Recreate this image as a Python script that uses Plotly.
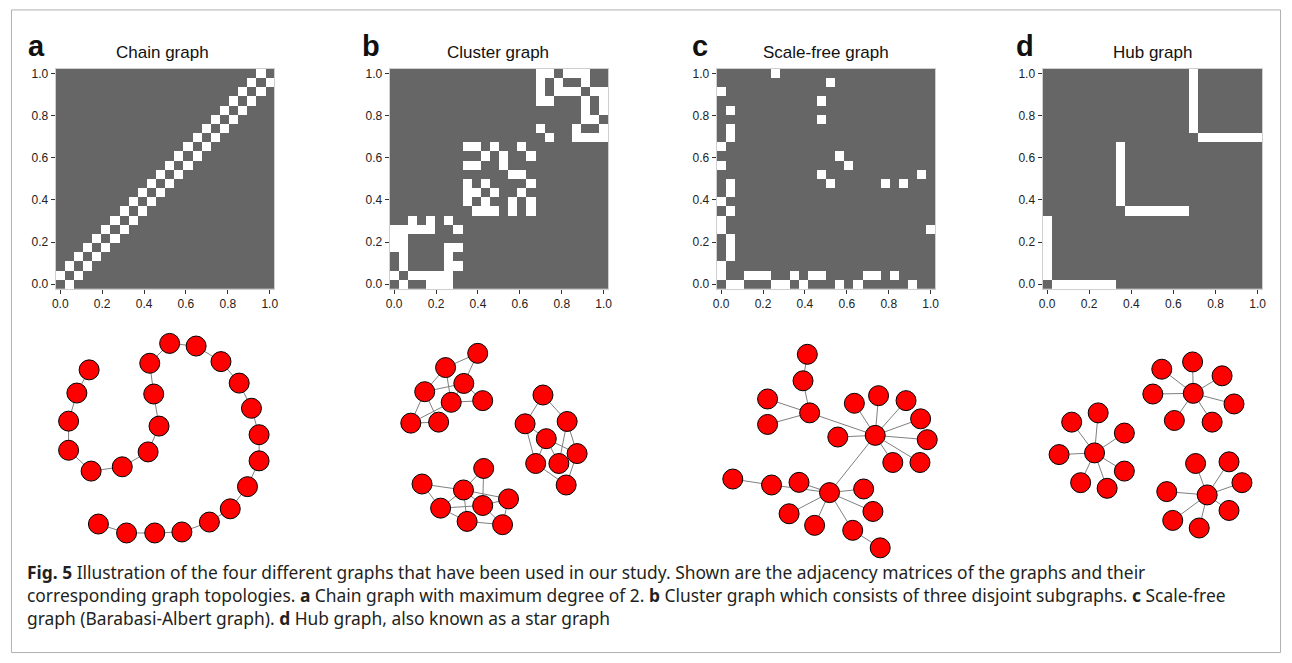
import plotly.graph_objects as go

W, H = 1292, 663
N = 24

# ---------------- data ----------------
tick_vals = [0.0, 0.2, 0.4, 0.6, 0.8, 1.0]
tick_text = ["0.0", "0.2", "0.4", "0.6", "0.8", "1.0"]
panel_letters = ["a", "b", "c", "d"]
panel_titles = ["Chain graph", "Cluster graph", "Scale-free graph", "Hub graph"]

chain_edges = [(0, 1), (1, 2), (2, 3), (3, 4), (4, 5), (5, 6), (6, 7), (7, 8), (8, 9), (9, 10),
               (10, 11), (11, 12), (12, 13), (13, 14), (14, 15), (15, 16), (16, 17), (17, 18),
               (18, 19), (19, 20), (20, 21), (21, 22), (22, 23)]

cluster_edges = [(0, 1), (0, 4), (0, 5), (0, 6), (1, 2), (1, 3), (1, 4), (1, 5), (1, 6), (2, 6),
                 (2, 7), (3, 6), (4, 6), (4, 7), (6, 7),
                 (8, 9), (8, 10), (8, 11), (8, 13), (8, 15), (9, 10), (9, 13), (9, 15), (10, 11),
                 (10, 14), (11, 15), (12, 13), (12, 14), (14, 15),
                 (16, 17), (16, 20), (16, 21), (16, 22), (16, 23), (17, 20), (17, 23), (18, 21),
                 (18, 22), (19, 21), (19, 23), (20, 21), (20, 23), (21, 22), (21, 23)]

scalefree_edges = [(0, 1), (0, 2), (0, 6), (0, 7), (0, 9), (0, 13), (0, 15), (0, 21),
                   (1, 3), (1, 4), (1, 5), (1, 8), (1, 10), (1, 11), (1, 16), (1, 17), (1, 19),
                   (6, 23), (12, 22), (11, 20), (11, 18), (13, 14), (11, 12)]

hub_edges = [(0, 1), (0, 2), (0, 3), (0, 4), (0, 5), (0, 6), (0, 7),
             (8, 9), (8, 10), (8, 11), (8, 12), (8, 13), (8, 14), (8, 15),
             (16, 17), (16, 18), (16, 19), (16, 20), (16, 21), (16, 22), (16, 23)]

# network layouts (layout units)
chain_pos = [(137, 137), (100, 207), (75, 292), (75, 380), (143, 443), (237, 430), (315, 385),
             (348, 307), (332, 210), (320, 117), (380, 57), (460, 65), (535, 112), (590, 177),
             (627, 253), (650, 333), (650, 412), (615, 490), (563, 557), (500, 597), (417, 627),
             (335, 630), (250, 630), (165, 603)]

cluster_pos = [(290, 87), (193, 130), (248, 178), (130, 203), (210, 235), (305, 230), (88, 298),
               (172, 295),
               (487, 213), (433, 300), (560, 293), (497, 345), (590, 390), (465, 420), (535, 420),
               (557, 485),
               (308, 435), (122, 482), (247, 500), (383, 527), (178, 555), (305, 547), (258, 595),
               (365, 605)]
cluster_net_edges = [(0, 1), (0, 2), (1, 3), (1, 4), (3, 2), (2, 5), (4, 5), (3, 6), (3, 7),
                     (6, 7), (6, 4), (2, 4),
                     (8, 9), (8, 10), (9, 11), (9, 13), (10, 12), (10, 14), (11, 14), (11, 12),
                     (13, 15), (12, 15), (11, 13),
                     (16, 18), (16, 21), (17, 18), (17, 20), (18, 21), (18, 22), (18, 19), (18, 20),
                     (20, 21), (20, 22), (21, 19), (19, 23), (22, 23), (21, 23)]

scalefree_pos = [(362, 478), (500, 305), (270, 447), (437, 208), (510, 185), (593, 200), (432, 592),
                 (465, 467), (637, 255), (493, 535), (657, 318), (302, 237), (282, 140), (187, 455),
                 (70, 437), (240, 542), (387, 310), (553, 387), (175, 195), (635, 387), (175, 272),
                 (317, 577), (295, 60), (515, 645)]

hub_pos = [(172, 343), (103, 250), (183, 222), (262, 283), (65, 348), (262, 398), (130, 433),
           (210, 450),
           (470, 163), (375, 90), (468, 68), (557, 110), (348, 165), (593, 195), (413, 245),
           (527, 250),
           (512, 470), (477, 375), (578, 370), (617, 433), (390, 460), (578, 517), (408, 547),
           (488, 570)]

caption_lines = [
    "<b>Fig. 5</b> Illustration of the four different graphs that have been used in our study. "
    "Shown are the adjacency matrices of the graphs and their",
    "corresponding graph topologies. <b>a</b> Chain graph with maximum degree of 2. <b>b</b> Cluster "
    "graph which consists of three disjoint subgraphs. <b>c</b> Scale-free",
    "graph (Barabasi-Albert graph). <b>d</b> Hub graph, also known as a star graph",
]

# ---------------- layout geometry (pixels) ----------------
mat_boxes = [(52, 67.5, 272, 289), (388, 67.5, 608, 289), (717, 67.5, 937, 289), (1045, 67.5, 1266, 289)]
net_boxes = [(40, 325, 280, 555, 720, 690), (380, 325, 600, 555, 660, 690),
             (710, 335, 950, 565, 720, 690), (1040, 340, 1270, 550, 690, 630)]
letter_x = [22, 358, 690, 1016]
title_x = [159, 497, 827, 1156]


def px(x):
    return x / W


def py(y):
    return 1 - y / H


def adjacency(edges):
    z = [[0] * N for _ in range(N)]
    for i, j in edges:
        z[i][j] = 1
        z[j][i] = 1
    return z


coords = [i / (N - 1) for i in range(N)]
half = 0.5 / (N - 1)

fig = go.Figure()
mats = [chain_edges, cluster_edges, scalefree_edges, hub_edges]
nets = [(chain_pos, chain_edges), (cluster_pos, cluster_net_edges),
        (scalefree_pos, scalefree_edges), (hub_pos, hub_edges)]

layout = dict(width=W, height=H, margin=dict(l=0, r=0, t=0, b=0),
              paper_bgcolor="white", plot_bgcolor="white", showlegend=False)

annotations = []
for k in range(4):
    ax = k + 1
    sfx = "" if ax == 1 else str(ax)
    fig.add_trace(go.Heatmap(z=adjacency(mats[k]), x=coords, y=coords,
                             colorscale=[[0, "#666666"], [1, "#ffffff"]], zmin=0, zmax=1,
                             showscale=False, hoverinfo="skip",
                             xaxis="x" + sfx, yaxis="y" + sfx))
    x0, y0, x1, y1 = mat_boxes[k]
    common = dict(range=[-half, 1 + half], tickvals=tick_vals, ticktext=tick_text,
                  ticks="outside", ticklen=4, tickwidth=1, tickcolor="#333333",
                  tickfont=dict(family="Liberation Sans", size=12, color="#222222"),
                  showgrid=False, zeroline=False, showline=True, linecolor="#cfcfcf",
                  linewidth=1, mirror=True, fixedrange=True)
    layout["xaxis" + sfx] = dict(domain=[px(x0), px(x1)], anchor="y" + sfx, **common)
    layout["yaxis" + sfx] = dict(domain=[py(y1), py(y0)], anchor="x" + sfx, **common)

    annotations.append(dict(text="<b>" + panel_letters[k] + "</b>", x=px(letter_x[k]), y=py(44),
                            xref="paper", yref="paper", xanchor="left", yanchor="middle",
                            showarrow=False, font=dict(family="Liberation Sans", size=29, color="#111111")))
    annotations.append(dict(text=panel_titles[k], x=px(title_x[k]), y=py(51),
                            xref="paper", yref="paper", xanchor="center", yanchor="middle",
                            showarrow=False, font=dict(family="Liberation Sans", size=17, color="#111111")))

for k in range(4):
    ax = k + 5
    sfx = str(ax)
    pos, edges = nets[k]
    ex, ey = [], []
    for i, j in edges:
        ex += [pos[i][0], pos[j][0], None]
        ey += [pos[i][1], pos[j][1], None]
    fig.add_trace(go.Scatter(x=ex, y=ey, mode="lines", line=dict(color="#808080", width=1),
                             hoverinfo="skip", xaxis="x" + sfx, yaxis="y" + sfx))
    fig.add_trace(go.Scatter(x=[p[0] for p in pos], y=[p[1] for p in pos], mode="markers",
                             marker=dict(size=20, color="#ff0000", line=dict(color="#000000", width=1)),
                             hoverinfo="skip", xaxis="x" + sfx, yaxis="y" + sfx))
    x0, y0, x1, y1, rw, rh = net_boxes[k]
    hidden = dict(visible=False, showgrid=False, zeroline=False, fixedrange=True)
    layout["xaxis" + sfx] = dict(domain=[px(x0), px(x1)], range=[0, rw], anchor="y" + sfx, **hidden)
    layout["yaxis" + sfx] = dict(domain=[py(y1), py(y0)], range=[rh, 0], anchor="x" + sfx, **hidden)

cap_y = [574, 598, 621]
for line, yy in zip(caption_lines, cap_y):
    annotations.append(dict(text=line, x=px(21), y=py(yy), xref="paper", yref="paper",
                            xanchor="left", yanchor="middle", showarrow=False,
                            font=dict(family="Noto Sans", size=17.4, color="#231f20")))

layout["annotations"] = annotations
layout["shapes"] = [dict(type="rect", xref="paper", yref="paper", x0=px(7.5), x1=px(1284.5),
                         y0=py(655.5), y1=py(8), line=dict(color="#b0b0b0", width=1),
                         fillcolor="rgba(0,0,0,0)", layer="below")]
fig.update_layout(**layout)
fig.write_html("out.html", config={"staticPlot": True},
               post_script="document.body.style.margin='0';document.body.style.padding='0';"
                           "document.body.style.overflow='hidden';")
